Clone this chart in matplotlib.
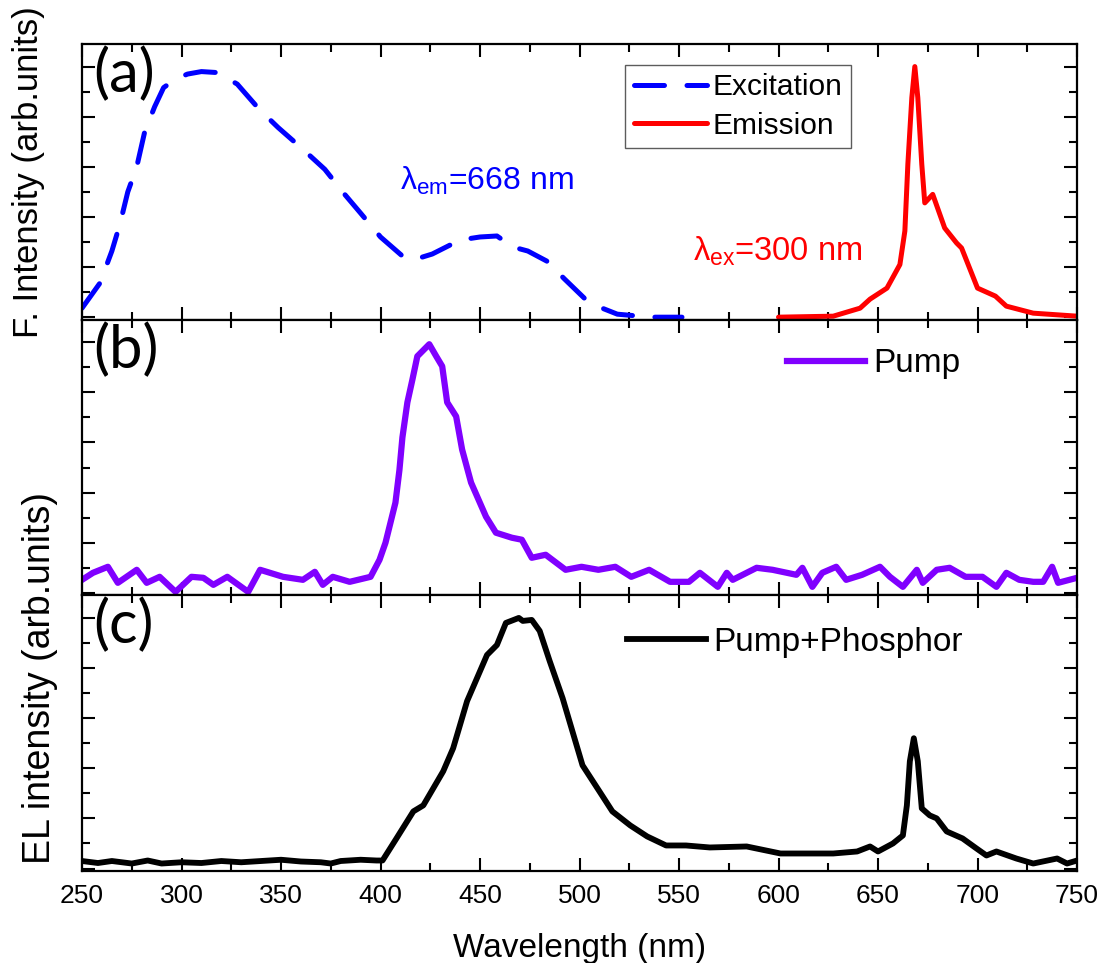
import numpy as np
import matplotlib
matplotlib.use('Agg')
import matplotlib.pyplot as plt
from matplotlib.ticker import MultipleLocator

plt.rcParams['font.family'] = ['Liberation Sans', 'DejaVu Sans']
plt.rcParams['mathtext.fontset'] = 'custom'
plt.rcParams['mathtext.rm'] = 'Liberation Sans'
plt.rcParams['mathtext.it'] = 'Liberation Sans'

# (a) excitation, monitored at 668 nm
exc_wl = [250, 259, 265, 269, 273, 277.5, 281.5, 286.5, 291, 297, 303, 310, 318, 328, 339, 348.5,
          361, 372, 382, 390, 400, 411, 417, 426, 440, 450, 458.5, 466.5, 474, 483.5,
          492.5, 505, 519, 536, 551.5]
exc_int = [0.036, 0.136, 0.264, 0.37, 0.50, 0.60, 0.74, 0.84, 0.916, 0.95, 0.97, 0.98, 0.976, 0.93, 0.83, 0.757,
           0.67, 0.59, 0.49, 0.415, 0.32, 0.244, 0.23, 0.252, 0.308, 0.32, 0.324, 0.28, 0.264, 0.224,
           0.152, 0.056, 0.012, 0.0, 0.0]

# (a) emission, excited at 300 nm
emi_wl = [600, 627.5, 641, 646, 654.5, 661, 663.5, 665, 667, 668.5, 670, 672, 673.5, 677.5,
          683.5, 689.5, 692, 700, 709, 714.5, 728, 750]
emi_int = [0.0, 0.004, 0.036, 0.072, 0.116, 0.21, 0.344, 0.61, 0.876, 1.0, 0.876, 0.61, 0.456, 0.49,
           0.356, 0.296, 0.276, 0.116, 0.084, 0.044, 0.016, 0.004]

# (b) pump LED
pump_wl = [250, 255.5, 263, 268, 277.5, 282.5, 289, 297, 305, 311, 316, 323, 333.5, 339.5,
           351, 361, 367, 371, 376, 384.5, 395, 399.5, 402.5, 405, 407.5, 409.5, 411, 413.5,
           416, 418.5, 424.5, 428, 431, 433.5, 438, 441, 445.5, 453, 458, 466, 471, 476,
           483, 493, 501, 509.5, 518, 526, 535, 545.5, 555, 560.5, 569.5, 574, 577, 589,
           597, 609, 612, 617, 622, 629, 634, 642, 651, 656, 662.5, 669.5, 672.5, 679.5,
           686, 694, 702.5, 709.5, 714.5, 721, 728, 733, 737.5, 740.5, 750]
pump_int = [0.052, 0.08, 0.104, 0.04, 0.092, 0.04, 0.064, 0.004, 0.064, 0.06, 0.032, 0.064, 0.004, 0.092,
            0.064, 0.052, 0.084, 0.032, 0.064, 0.044, 0.064, 0.132, 0.2, 0.28, 0.36, 0.49, 0.62, 0.76,
            0.85, 0.944, 0.992, 0.944, 0.904, 0.76, 0.704, 0.572, 0.44, 0.304, 0.24, 0.22, 0.212, 0.14,
            0.152, 0.092, 0.104, 0.092, 0.104, 0.064, 0.092, 0.044, 0.044, 0.08, 0.024, 0.08, 0.052, 0.1,
            0.092, 0.072, 0.1, 0.024, 0.08, 0.104, 0.052, 0.072, 0.104, 0.064, 0.024, 0.092, 0.04, 0.092,
            0.1, 0.064, 0.064, 0.024, 0.08, 0.052, 0.044, 0.044, 0.104, 0.04, 0.06]

# (c) pump + phosphor EL
el_wl = [250, 258, 265, 275, 283, 290, 300, 310, 320, 330, 340, 350, 360, 370, 375, 380,
         390, 398, 401, 408, 416.5, 421.5, 426.5, 431.5, 436.5, 443.5, 448.5, 453.5, 458.5,
         463, 469.5, 471.5, 476, 480, 485, 491.5, 501.5, 510, 516.5, 525.5, 534, 543.5,
         553.5, 565.5, 584, 601, 627.5, 639.5, 646, 650, 657.5, 662.5, 664.5, 666, 668,
         670, 672, 676, 679.5, 684.5, 692.5, 699.5, 704.5, 709.5, 719.5, 728, 740, 745, 750]
el_int = [0.03, 0.022, 0.03, 0.02, 0.032, 0.02, 0.025, 0.022, 0.03, 0.025, 0.03, 0.035, 0.028, 0.025, 0.02, 0.03,
          0.035, 0.032, 0.032, 0.12, 0.228, 0.252, 0.32, 0.388, 0.48, 0.668, 0.76, 0.852, 0.892,
          0.98, 1.0, 0.988, 0.992, 0.948, 0.828, 0.68, 0.412, 0.308, 0.228, 0.172, 0.128, 0.092,
          0.092, 0.084, 0.088, 0.06, 0.06, 0.068, 0.088, 0.068, 0.1, 0.132, 0.252, 0.428, 0.52,
          0.428, 0.24, 0.212, 0.2, 0.148, 0.12, 0.08, 0.052, 0.068, 0.04, 0.02, 0.04, 0.02, 0.032]

fig, axes = plt.subplots(3, 1, sharex=True, figsize=(11.07, 9.63), dpi=100)
fig.subplots_adjust(left=0.0741, right=0.9729, top=0.9543, bottom=0.0955, hspace=0)

for ax in axes:
    ax.set_xlim(250, 750)
    ax.set_ylim(-0.01, 1.09)
    ax.xaxis.set_major_locator(MultipleLocator(50))
    ax.xaxis.set_minor_locator(MultipleLocator(25))
    ax.yaxis.set_major_locator(MultipleLocator(0.2))
    ax.yaxis.set_minor_locator(MultipleLocator(0.1))
    ax.tick_params(which='both', direction='in', top=True, right=True, width=1.5)
    ax.tick_params(which='major', length=9.5)
    ax.tick_params(which='minor', length=5.5)
    ax.tick_params(axis='x', labelsize=19, pad=9)
    ax.set_yticklabels([])
    for s in ax.spines.values():
        s.set_linewidth(1.6)

ax1, ax2, ax3 = axes

ax1.plot(exc_wl, exc_int, color='#0000ff', lw=3.6, dashes=(6, 4.5),
         dash_capstyle='round', label='Excitation')
ax1.plot(emi_wl, emi_int, color='#ff0000', lw=3.6, solid_capstyle='round', label='Emission')
leg = ax1.legend(loc='upper left', bbox_to_anchor=(0.546, 0.924), fontsize=21.5,
                 frameon=True, fancybox=False, borderaxespad=0, borderpad=0.28,
                 handlelength=2.45, handletextpad=0.2, labelspacing=0.35)
leg.get_frame().set_edgecolor('#333333')
leg.get_frame().set_linewidth(1.0)
ax1.text(410, 0.508, r'$\mathrm{λ}_{\mathrm{em}}$=668 nm', color='#0000ff', fontsize=23)
ax1.text(557, 0.224, r'$\mathrm{λ}_{\mathrm{ex}}$=300 nm', color='#ff0000', fontsize=23.5)

ax2.plot(pump_wl, pump_int, color='#8000ff', lw=4.5, label='Pump')
ax2.legend(loc='center left', bbox_to_anchor=(0.7085, 0.84), fontsize=24, frameon=False,
           borderaxespad=0, borderpad=0, handlelength=2.35, handletextpad=0.24)

ax3.plot(el_wl, el_int, color='black', lw=4.2, label='Pump+Phosphor')
ax3.legend(loc='center left', bbox_to_anchor=(0.548, 0.83), fontsize=24, frameon=False,
           borderaxespad=0, borderpad=0, handlelength=2.35, handletextpad=0.24)
ax3.set_xlabel('Wavelength (nm)', fontsize=24, labelpad=18)

for ax, lab in zip(axes, ['(a)', '(b)', '(c)']):
    ax.text(0.011, 0.99, lab, transform=ax.transAxes, fontsize=43, family='Lato',
            ha='left', va='top')

fig.text(0.0257, 0.8214, 'F. Intensity (arb.units)', rotation=90, fontsize=25,
         ha='center', va='center')
fig.text(0.0361, 0.296, 'EL intensity (arb.units)', rotation=90, fontsize=27,
         ha='center', va='center')

fig.savefig('out.png', dpi=100)
